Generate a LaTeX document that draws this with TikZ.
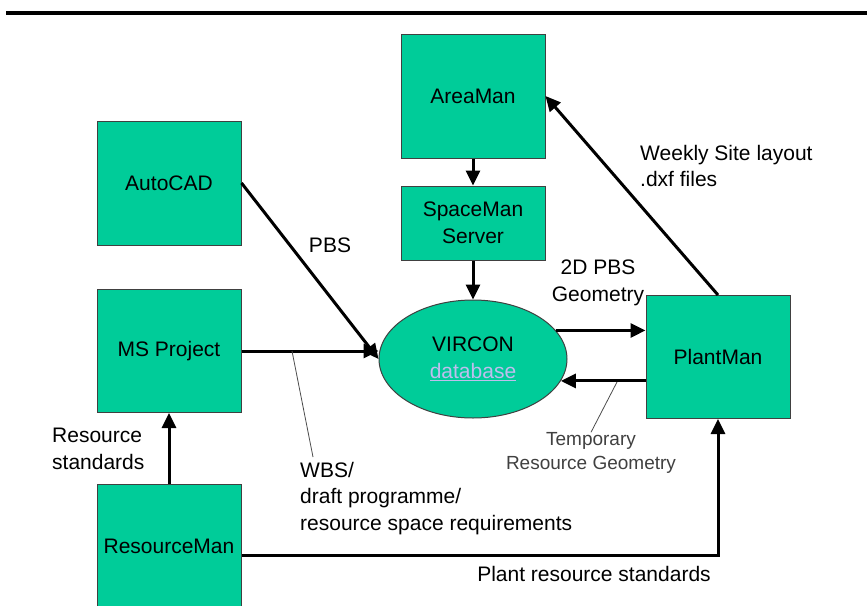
\documentclass[tikz,border=0pt]{standalone}
\usepackage{fontspec}
\setmainfont{Liberation Sans}
\usepackage{tikz}
\usetikzlibrary{
  	positioning,
  	arrows.meta,
  	shapes,
  	calc
  }
\definecolor{boxgreen}{RGB}{0,204,153}
\definecolor{linkblue}{RGB}{190,190,238}
\tikzstyle{tool}=[rectangle,fill=boxgreen,draw=black!75,line width=1pt,minimum width=144pt,align=center,font=\fontsize{21}{27}\selectfont]
\tikzstyle{flow}=[line width=3pt,-{Triangle[length=15pt,width=14pt]}]
\tikzstyle{lbl}=[font=\fontsize{21}{26.5}\selectfont,inner sep=0pt]
\tikzstyle{lead}=[draw=black!70,line width=0.8pt]

\begin{document}
\begin{tikzpicture}[x=1pt,y=-1pt]
    \useasboundingbox (0,0) rectangle (867,605);
    \draw [line width=4pt] (6,13) -- (867,13);
    \node [tool, minimum height=124pt] (areaman) at (473,96) {AreaMan};
    \node [tool, minimum height=74pt] (spaceman) at (473,223) {SpaceMan\\Server};
    \node [tool, minimum height=124pt] (autocad) at (169,183) {AutoCAD};
    \node [tool, minimum height=123pt] (msproject) at (169,351) {MS Project};
    \node [tool, minimum height=124pt] (resourceman) at (169,546) {ResourceMan};
    \node [tool, minimum height=123pt] (plantman) at (718,357) {PlantMan};
    \node [ellipse, fill=boxgreen, draw=black!75, line width=1pt, minimum width=188pt, minimum height=118pt, align=center, font=\fontsize{21}{27}\selectfont] (vircon) at (473,359) {VIRCON\\{\color{linkblue}\underline{database}}};

    \draw [flow] (areaman) -- (spaceman);
    \draw [flow] (spaceman) -- (vircon);
    \draw [flow] (autocad.east) -- (vircon.west);
    \draw [flow] (msproject.east) -- (msproject.east -| vircon.west);
    \draw [flow] (vircon.19) -- (vircon.19 -| plantman.west);
    \draw [flow] (plantman.west |- vircon.-14) -- (vircon.-14);
    \draw [flow] (plantman.north) -- (areaman.east);
    \draw [flow] (resourceman) -- (msproject);
    \draw [flow] ([yshift=-9pt]resourceman.east) -| (plantman.south);

    \node [lbl] (pbs) at (330,245) {PBS};
    \node [lbl, align=left, anchor=north west] (wbs) at (300,462) {WBS/\\draft programme/\\resource space requirements};
    \node [lbl, align=center] (geom) at (598,283) {2D PBS\\Geometry};
    \node [lbl, align=center, text=black!75, font=\fontsize{19}{24}\selectfont] (temp) at (591,453) {Temporary\\Resource Geometry};
    \node [lbl, align=left, anchor=north west] (weekly) at (640,145) {Weekly Site layout\\.dxf files};
    \node [lbl, align=left, anchor=north west] (resstd) at (52,428) {Resource\\standards};
    \node [lbl] (plantstd) at (594,574) {Plant resource standards};

    \coordinate (wbsfoot) at (292,351);
    \coordinate (tempfoot) at (617,382);
    \draw [lead] (wbsfoot) -- (313,457);
    \draw [lead] (tempfoot) -- (temp.north);
\end{tikzpicture}
\end{document}
